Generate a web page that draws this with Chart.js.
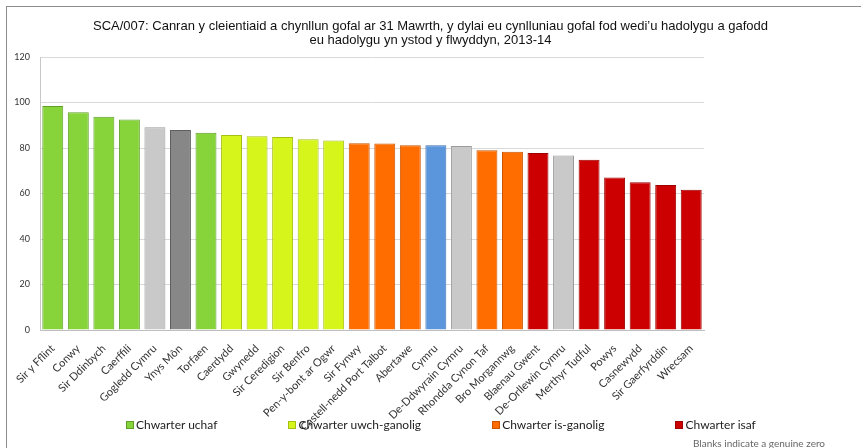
<!DOCTYPE html>
<html>
<head>
<meta charset="utf-8">
<script src="https://cdn.jsdelivr.net/npm/chart.js@4.4.1/dist/chart.umd.min.js"></script>
<style>
  html, body { margin: 0; padding: 0; background: #fff; }
  #wrap { position: relative; width: 861px; height: 448px; overflow: hidden; }
  #frame { position: absolute; left: 6px; top: 6px; width: 900px; height: 500px;
           border-left: 1px solid #8c8c8c; border-top: 1px solid #8c8c8c; }
  canvas { position: absolute; left: 0; top: 0; }
  #legend { position: absolute; left: 126px; top: 417px; display: flex; gap: 71px;
            font: 12px Lato, sans-serif; color: #222; white-space: nowrap; }
  #legend .item { display: flex; align-items: center; }
  #legend .box { display: inline-block; width: 6px; height: 6px; border: 1px solid; margin-right: 2px; }
  #note { position: absolute; left: 693px; top: 437px; font: 10px Lato, sans-serif; color: #666; white-space: nowrap; }
</style>
</head>
<body>
<div id="wrap">
  <div id="frame"></div>
  <canvas id="c" width="861" height="448"></canvas>
  <div id="legend"></div>
  <div id="note">Blanks indicate a genuine zero</div>
</div>
<script>
const titleLines = [
  "SCA/007: Canran y cleientiaid a chynllun gofal ar 31 Mawrth, y dylai eu cynlluniau gofal fod wedi\u2019u hadolygu a gafodd",
  "eu hadolygu yn ystod y flwyddyn, 2013-14"
];
const categories = [
  "Sir y Fflint", "Conwy", "Sir Ddinbych", "Caerffili", "Gogledd Cymru", "Ynys Môn",
  "Torfaen", "Caerdydd", "Gwynedd", "Sir Ceredigion", "Sir Benfro", "Pen-y-bont ar Ogwr",
  "Sir Fynwy", "Castell-nedd Port Talbot", "Abertawe", "Cymru", "De-Ddwyrain Cymru",
  "Rhondda Cynon Taf", "Bro Morgannwg", "Blaenau Gwent", "De-Orllewin Cymru",
  "Merthyr Tudful", "Powys", "Casnewydd", "Sir Gaerfyrddin", "Wrecsam"
];
const values = [
  98.5, 95.7, 93.8, 92.6, 89.2, 87.9,
  86.7, 85.7, 85.2, 84.9, 83.9, 83.3,
  82.1, 82.0, 81.2, 81.2, 80.9,
  79.0, 78.4, 77.8, 76.7,
  74.9, 67.1, 65.0, 63.7, 61.7
];
// group of each bar: q1..q4 = quartiles, region, wales, other
const groups = [
  "q1", "q1", "q1", "q1", "region", "other",
  "q1", "q2", "q2", "q2", "q2", "q2",
  "q3", "q3", "q3", "wales", "region",
  "q3", "q3", "q4", "region",
  "q4", "q4", "q4", "q4", "q4"
];
const legendGroups = ["q1", "q2", "q3", "q4"];
const legendLabels = ["Chwarter uchaf", "Chwarter uwch-ganolig", "Chwarter is-ganolig", "Chwarter isaf"];
const yTicks = [0, 20, 40, 60, 80, 100, 120];

const fill = { q1: "#86d43a", q2: "#d6f51a", q3: "#ff6d00", q4: "#cc0000", region: "#c9c9c9", wales: "#5b96dc", other: "#878787" };
const edge = { q1: "#5f9f28", q2: "#a7bf12", q3: "#c95400", q4: "#9c0000", region: "#9a9a9a", wales: "#3d72b4", other: "#5e5e5e" };

// HTML legend built from the legend arrays
const legendEl = document.getElementById("legend");
legendGroups.forEach((g, i) => {
  const item = document.createElement("span");
  item.className = "item";
  const box = document.createElement("span");
  box.className = "box";
  box.style.background = fill[g];
  box.style.borderColor = edge[g];
  item.appendChild(box);
  item.appendChild(document.createTextNode(legendLabels[i]));
  legendEl.appendChild(item);
});

const ctx = document.getElementById("c").getContext("2d");
new Chart(ctx, {
  type: "bar",
  data: {
    labels: categories,
    datasets: [{
      data: values,
      backgroundColor: groups.map(g => fill[g]),
      borderColor: groups.map(g => edge[g]),
      borderWidth: 1,
      barPercentage: 0.82,
      categoryPercentage: 1.0
    }]
  },
  options: {
    responsive: false,
    animation: false,
    layout: { padding: { top: 19, left: 0, right: 0, bottom: 0 } },
    plugins: {
      title: {
        display: true,
        text: titleLines,
        color: "#111",
        font: { family: "'Liberation Sans', Arial, sans-serif", size: 13, weight: "normal", lineHeight: 1.08 },
        padding: { top: 0, bottom: 10 }
      },
      legend: { display: false },
      tooltip: { enabled: false }
    },
    scales: {
      x: {
        grid: { display: false },
        border: { display: true, color: "#bfbfbf" },
        ticks: {
          autoSkip: false,
          maxRotation: 45,
          minRotation: 45,
          color: "#333",
          font: { family: "Lato, sans-serif", size: 11 },
          padding: 4
        },
        afterFit: s => { s.height = 118; }
      },
      y: {
        min: 0,
        max: 120,
        afterBuildTicks: s => { s.ticks = yTicks.map(v => ({ value: v })); },
        grid: { color: "#d9d9d9", drawTicks: false },
        border: { display: true, color: "#c8c8c8" },
        ticks: {
          color: "#333",
          font: { family: "Lato, sans-serif", size: 9 },
          padding: 10
        },
        afterFit: s => { s.width = 40; }
      },
      yPad: {
        position: "right",
        display: true,
        grid: { display: false, drawTicks: false },
        border: { display: false },
        ticks: { display: false },
        afterFit: s => { s.width = 157; }
      }
    }
  }
});
</script>
</body>
</html>
